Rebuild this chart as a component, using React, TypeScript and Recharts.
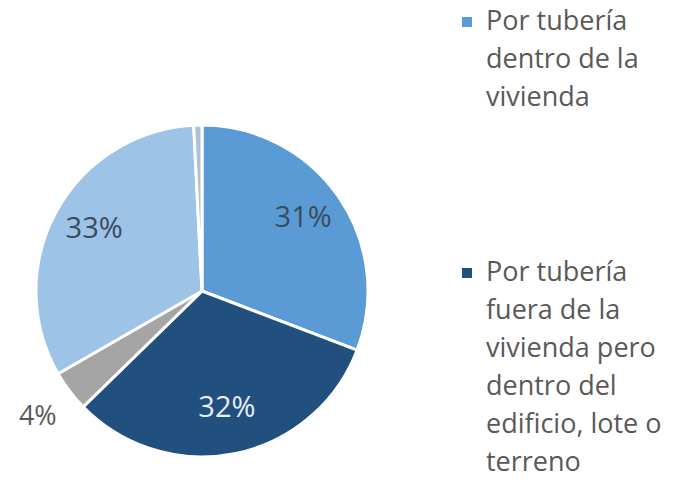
import { PieChart, Pie, Cell } from "recharts";

// slice order clockwise from 12 o'clock
const categories = [
  "Por tubería dentro de la vivienda",
  "Por tubería fuera de la vivienda pero dentro del edificio, lote o terreno",
  "Por pila pública",
  "Otra fuente",
  "Sin información",
];
const shares = [30.8, 31.9, 4.0, 32.5, 0.8];
const colors = ["#5B9BD5", "#21507F", "#A5A5A5", "#9DC3E6", "#AFC0D2"];
const labelColors = ["#3A4B5E", "#E8EEF5", "#595959", "#3A4B5E", "transparent"];

// legend only shows the first two entries (rest is cut off)
const legendLines = [
  ["Por tubería", "dentro de la", "vivienda"],
  ["Por tubería", "fuera de la", "vivienda pero", "dentro del", "edificio, lote o", "terreno"],
];

const data = categories.map((name, i) => ({ name, value: shares[i] }));

const RAD = Math.PI / 180;

function renderLabel(props: any) {
  const { cx, cy, midAngle, outerRadius, value, index } = props;
  if (value < 1) return null;
  const small = value < 10;
  const r = small ? outerRadius * 1.24 : outerRadius * 0.74;
  const x = cx + r * Math.cos(-midAngle * RAD);
  const y = cy + r * Math.sin(-midAngle * RAD) - (small ? 1 : 6);
  return (
    <text
      x={x}
      y={y}
      fill={labelColors[index]}
      textAnchor="middle"
      dominantBaseline="central"
      fontSize={small ? 27 : 29}
      fontFamily="'Open Sans', sans-serif"
    >
      {Math.round(value)}%
    </text>
  );
}

export default function App() {
  return (
    <div style={{ position: "absolute", left: 0, top: 0, width: 675, height: 487, background: "#fff", overflow: "hidden" }}>
      <PieChart width={675} height={487}>
        <Pie
          data={data}
          dataKey="value"
          cx={197}
          cy={286}
          outerRadius={166}
          startAngle={90}
          endAngle={-270}
          stroke="#fff"
          strokeWidth={3}
          label={renderLabel}
          labelLine={false}
          isAnimationActive={false}
        >
          {data.map((d, i) => (
            <Cell key={d.name} fill={colors[i]} />
          ))}
        </Pie>
      </PieChart>

      {/* Legend */}
      {legendLines.map((lines, i) => (
        <div
          key={i}
          style={{
            position: "absolute",
            left: 462,
            top: i === 0 ? 1 : 252,
            fontFamily: "'Open Sans', sans-serif",
            fontSize: 27,
            lineHeight: "38px",
            color: "#595959",
          }}
        >
          <span
            style={{
              position: "absolute",
              left: 0,
              top: 16,
              width: 10,
              height: 10,
              background: colors[i],
            }}
          />
          <div style={{ marginLeft: 24 }}>
            {lines.map((l) => (
              <div key={l} style={{ whiteSpace: "nowrap" }}>
                {l}
              </div>
            ))}
          </div>
        </div>
      ))}
    </div>
  );
}
